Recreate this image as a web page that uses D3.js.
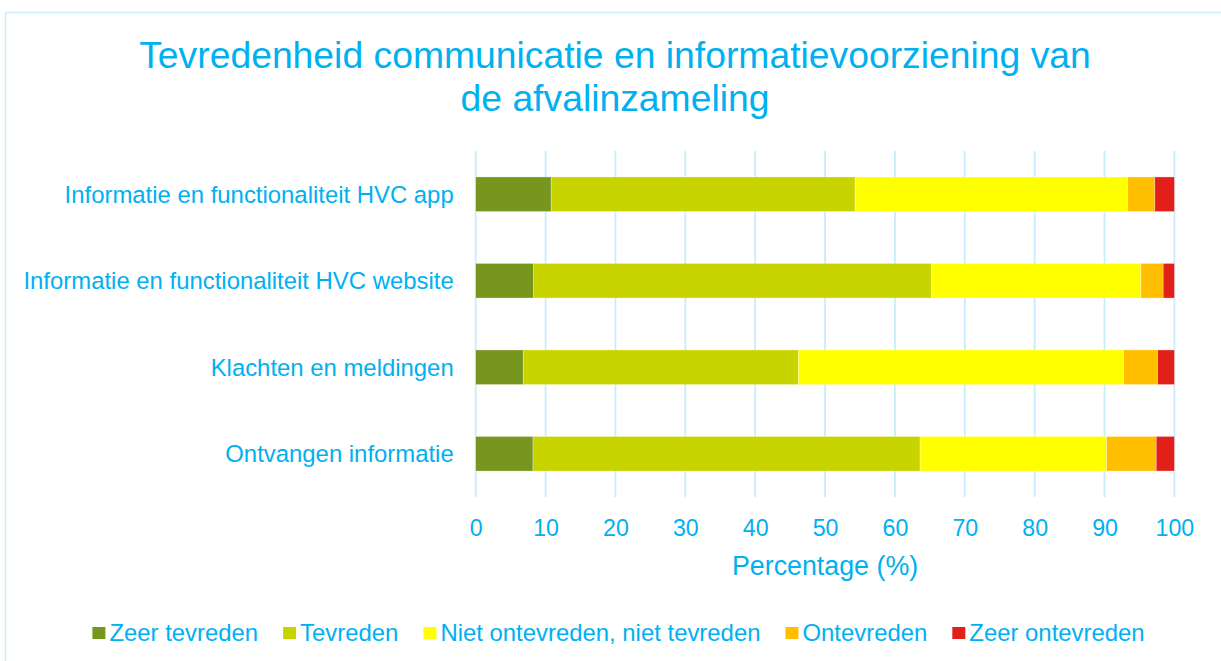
<!DOCTYPE html>
<html>
<head>
<meta charset="utf-8">
<script src="https://cdn.jsdelivr.net/npm/d3@7"></script>
<style>
  html, body { margin: 0; padding: 0; background: #ffffff; }
  svg { display: block; font-family: "Liberation Sans", Arial, sans-serif; }
</style>
</head>
<body>
<svg id="chart" width="1221" height="661"></svg>
<script>
// Satisfaction survey: share of respondents per answer category (%)
const categories = [
  "Informatie en functionaliteit HVC app",
  "Informatie en functionaliteit HVC website",
  "Klachten en meldingen",
  "Ontvangen informatie"
];
const seriesNames = [
  "Zeer tevreden",
  "Tevreden",
  "Niet ontevreden, niet tevreden",
  "Ontevreden",
  "Zeer ontevreden"
];
const zeerTevreden   = [10.8, 8.3, 6.8, 8.2];
const tevreden       = [43.5, 56.9, 39.4, 55.4];
const neutraal       = [39.0, 30.0, 46.5, 26.7];
const ontevreden     = [3.9, 3.2, 4.9, 7.1];
const zeerOntevreden = [2.8, 1.6, 2.4, 2.6];
const xTicks = [0, 10, 20, 30, 40, 50, 60, 70, 80, 90, 100];

const colors = ["#76961e", "#c8d400", "#ffff00", "#ffbf00", "#e31f1a"];
const textColor = "#00b0f0";
const gridColor = "#c8edfc";

const seriesValues = [zeerTevreden, tevreden, neutraal, ontevreden, zeerOntevreden];
const rows = categories.map((c, i) => {
  const r = { category: c };
  seriesNames.forEach((s, j) => { r[s] = seriesValues[j][i]; });
  return r;
});

const svg = d3.select("#chart");

// chart frame
svg.append("rect")
  .attr("x", 5.5).attr("y", 12.5)
  .attr("width", 1240).attr("height", 700)
  .attr("fill", "none")
  .attr("stroke", gridColor)
  .attr("stroke-width", 1.5);

// title
const title = svg.append("text")
  .attr("x", 615).attr("y", 67.5)
  .attr("text-anchor", "middle")
  .attr("fill", textColor)
  .style("font-size", "37.3px");
title.append("tspan").attr("x", 615).attr("dy", 0)
  .text("Tevredenheid communicatie en informatievoorziening van");
title.append("tspan").attr("x", 615).attr("dy", 43)
  .text("de afvalinzameling");

const plot = { left: 475.7, right: 1174.4, top: 151, bottom: 497 };

const x = d3.scaleLinear().domain([0, 100]).range([plot.left, plot.right]);
const y = d3.scaleBand().domain(categories)
  .range([plot.top, plot.bottom])
  .paddingInner(0.6).paddingOuter(0.3);

// vertical gridlines
svg.append("g")
  .selectAll("line")
  .data(xTicks)
  .join("line")
  .attr("x1", d => x(d)).attr("x2", d => x(d))
  .attr("y1", plot.top).attr("y2", plot.bottom)
  .attr("stroke", gridColor)
  .attr("stroke-width", 1.8);

// stacked bars
const stack = d3.stack().keys(seriesNames);
const layers = stack(rows);

svg.append("g")
  .selectAll("g")
  .data(layers)
  .join("g")
  .attr("fill", (d, i) => colors[i])
  .selectAll("rect")
  .data(d => d)
  .join("rect")
  .attr("x", d => x(d[0]))
  .attr("y", d => y(d.data.category))
  .attr("width", d => x(d[1]) - x(d[0]))
  .attr("height", y.bandwidth())
  .attr("stroke", "#ffffff")
  .attr("stroke-opacity", 0.5)
  .attr("stroke-width", 0.6);

// category labels
const yAxis = d3.axisLeft(y).tickSize(0).tickPadding(0);
const yg = svg.append("g")
  .attr("transform", `translate(${plot.left - 22},0)`)
  .call(yAxis);
yg.select(".domain").remove();
yg.selectAll("text")
  .attr("fill", textColor)
  .style("font-size", "23.9px")
  .style("font-family", "'Liberation Sans', Arial, sans-serif")
  .attr("dy", "0.36em");

// x axis tick labels
const xAxis = d3.axisBottom(x).tickValues(xTicks).tickSize(0).tickPadding(0)
  .tickFormat(d3.format("d"));
const xg = svg.append("g")
  .attr("transform", `translate(0,${plot.bottom + 39})`)
  .call(xAxis);
xg.select(".domain").remove();
xg.selectAll("text")
  .attr("fill", textColor)
  .attr("dy", 0)
  .style("font-size", "23.2px")
  .style("font-family", "'Liberation Sans', Arial, sans-serif");

// x axis title
svg.append("text")
  .attr("x", (plot.left + plot.right) / 2)
  .attr("y", 574.5)
  .attr("text-anchor", "middle")
  .attr("fill", textColor)
  .style("font-size", "26.8px")
  .text("Percentage (%)");

// legend, centred under the chart
const legend = svg.append("g");
const items = legend.selectAll("g")
  .data(seriesNames)
  .join("g");
items.append("rect")
  .attr("x", 0).attr("y", -13.5)
  .attr("width", 13).attr("height", 12)
  .attr("fill", (d, i) => colors[i]);
items.append("text")
  .attr("x", 17).attr("y", 0)
  .attr("fill", textColor)
  .style("font-size", "23.9px")
  .text(d => d);

let cursor = 0;
items.each(function () {
  const g = d3.select(this);
  const w = 17 + g.select("text").node().getComputedTextLength();
  g.attr("transform", `translate(${cursor},0)`);
  cursor += w + 25;
});
const legendWidth = cursor - 25;
legend.attr("transform", `translate(${618.5 - legendWidth / 2},640.5)`);
</script>
</body>
</html>
